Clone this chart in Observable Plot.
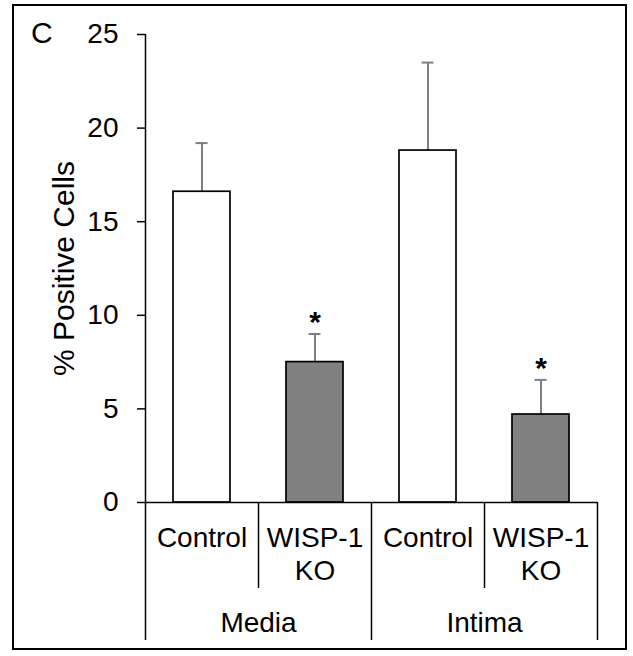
<!DOCTYPE html>
<html><head><meta charset="utf-8">
<script src="https://cdn.jsdelivr.net/npm/d3@7"></script>
<script src="https://cdn.jsdelivr.net/npm/@observablehq/plot@0.6"></script>
<style>
body{margin:0;background:#fff;}
#wrap{position:relative;width:633px;height:656px;font-family:"Liberation Sans",Arial,sans-serif;}
#chart{position:absolute;left:0;top:0;}
#border{position:absolute;left:12px;top:4px;width:615px;height:646px;border:2px solid #000;box-sizing:border-box;}
#panel{position:absolute;left:31px;top:18px;font-size:30px;line-height:30px;color:#000;}
</style></head><body>
<div id="wrap"><div id="chart"></div><div id="border"></div><div id="panel">C</div></div>
<script>
// ---- data ----
const groups = ["Media", "Media", "Intima", "Intima"];
const conditions = ["Control", "WISP-1 KO", "Control", "WISP-1 KO"];
const means = [16.6, 7.5, 18.8, 4.7];
const errors = [2.6, 1.5, 4.7, 1.85];
const stars = ["", "*", "", "*"];
const groupLabels = ["Media", "Intima"];
const yTicks = [0, 5, 10, 15, 20, 25];
const yLabel = "% Positive Cells";

const data = conditions.map((c, i) => ({
  pos: i + 0.5, condition: c, group: groups[i],
  mean: means[i], top: means[i] + errors[i], star: stars[i]
}));
const centers = data.map(d => d.pos);
const row1 = conditions.map(c => c.split(" ")[0]);
const row2 = conditions.map(c => c.split(" ")[1] || "");
const groupCenters = groupLabels.map((g, j) => 2 * j + 1);
const groupEdges = [0, 2, 4];
const innerEdges = [1, 3];

const FS = 28;
const plot = Plot.plot({
  width: 633, height: 656,
  marginLeft: 145, marginRight: 36, marginTop: 34, marginBottom: 154,
  style: {fontFamily: "Liberation Sans, Arial, sans-serif", fontSize: FS + "px", background: "transparent", color: "#000"},
  x: {type: "linear", domain: [0, 4], label: null},
  y: {domain: [0, 25], label: null},
  color: {domain: ["Control", "WISP-1 KO"], range: ["#ffffff", "#808080"]},
  marks: [
    Plot.ruleX(data, {x: "pos", y1: "mean", y2: "top", stroke: "#7f7f7f", strokeWidth: 2}),
    Plot.ruleY(data, {x: "pos", interval: 1, y: "top", insetLeft: 50.5, insetRight: 50.5, stroke: "#7f7f7f", strokeWidth: 2}),
    Plot.rectY(data, {x: "pos", interval: 1, y: "mean", insetLeft: 28, insetRight: 28, fill: "condition", stroke: "#000", strokeWidth: 1.7}),
    Plot.text(data, {x: "pos", y: "top", text: "star", lineAnchor: "bottom", dy: -2, fontWeight: "bold", fontSize: 30, fill: "#000"}),
    Plot.ruleY([0], {stroke: "#000", strokeWidth: 1.5}),
    Plot.ruleX([0], {stroke: "#000", strokeWidth: 1.5}),
    Plot.axisY({ticks: yTicks, tickSize: 8, tickPadding: 19, fontSize: FS, stroke: "#000", strokeWidth: 1.5,
      label: null}),
    Plot.axisY({ticks: [], tickSize: 0, fontSize: 30,
      label: yLabel, labelAnchor: "center", labelArrow: "none", labelOffset: 93}),
    Plot.axisX({ticks: groupEdges, tickSize: 138, tickFormat: () => "", stroke: "#000", strokeWidth: 1.5, label: null}),
    Plot.axisX({ticks: innerEdges, tickSize: 86, tickFormat: () => "", stroke: "#000", strokeWidth: 1.5, label: null}),
    Plot.axisX({ticks: centers, tickSize: 0, tickPadding: 25, fontSize: FS, tickFormat: d => row1[Math.floor(d)], label: null}),
    Plot.axisX({ticks: centers, tickSize: 0, tickPadding: 58, fontSize: FS, tickFormat: d => row2[Math.floor(d)], label: null}),
    Plot.axisX({ticks: groupCenters, tickSize: 0, tickPadding: 110, fontSize: FS, tickFormat: d => groupLabels[Math.floor(d / 2)], label: null})
  ]
});
document.getElementById("chart").appendChild(plot);
</script>
</body></html>
